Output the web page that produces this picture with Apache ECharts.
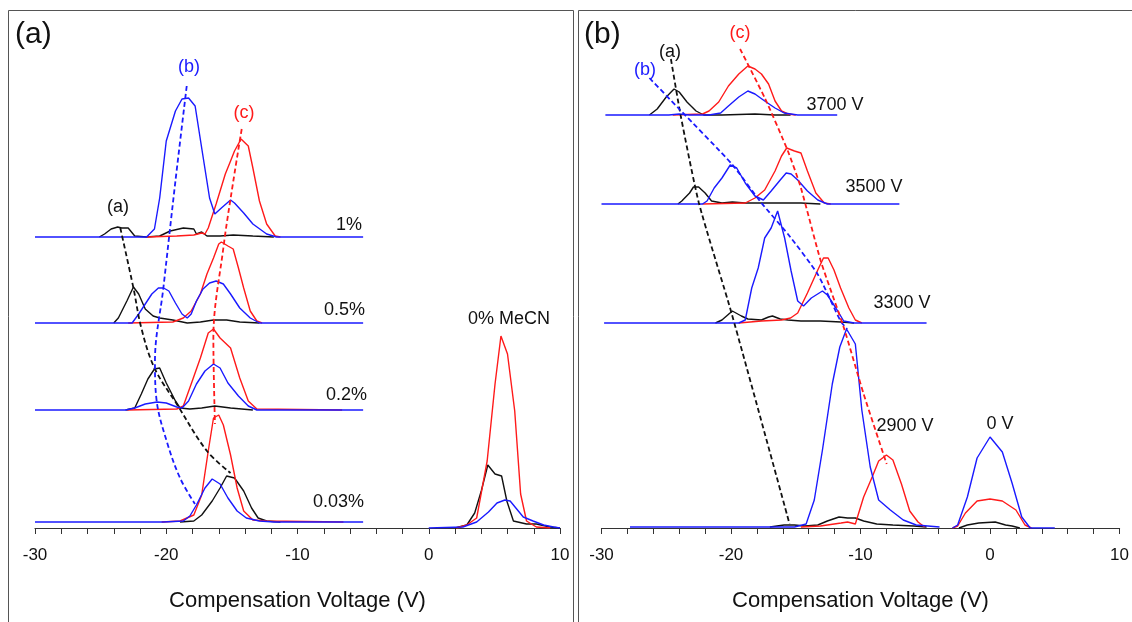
<!doctype html>
<html>
<head>
<meta charset="UTF-8">
<title>Compensation Voltage</title>
<script src="https://cdn.jsdelivr.net/npm/echarts@6/dist/echarts.min.js"></script>
<style>
  html, body { margin: 0; padding: 0; background: #fff; }
  #main { width: 1132px; height: 622px; }
</style>
</head>
<body>
<div id="main"></div>
<script>
// ---- panel (a): MeCN content, traces are [CV (V), intensity above baseline]
var rowsA = ['1%', '0.5%', '0.2%', '0.03%', '0% MeCN'];
var offsetsA = [291, 205, 118, 6, 0];   // stacking offset of each row

var a1_black = [[-25.1,0],[-24.7,3],[-24.2,8],[-23.7,10],[-23.4,9],[-22.9,9],[-22.4,1],[-21.5,0],[-20.5,1],[-19.7,6],[-18.7,9],[-17.9,8],[-17.7,3],[-17.3,5],[-16.9,1],[-15.9,1],[-14.9,2],[-13.4,1],[-11.8,0]];
var a1_red   = [[-21.5,0],[-19.2,1],[-17.9,2],[-17.3,4],[-17.05,3],[-16.8,9],[-16.2,33],[-15.5,63],[-15.1,76],[-14.8,86],[-14.3,98],[-13.75,91],[-13.4,69],[-12.9,36],[-12.35,13],[-11.7,1],[-11.3,0]];
var a1_blue  = [[-30,0],[-21.5,0],[-20.9,8],[-20.5,39],[-20,96],[-19.3,126],[-18.8,138],[-18.3,139],[-17.8,131],[-17.3,89],[-16.7,39],[-16.3,23],[-15.8,29],[-15.1,37],[-14.8,34],[-14.1,24],[-13.4,13],[-12.35,3],[-11.6,0],[-5,0]];

var a05_black = [[-24,0],[-23.65,5],[-23,22],[-22.5,36],[-22.1,29],[-21.6,14],[-21,7],[-20.5,5],[-19.5,3],[-18.4,0],[-17.4,1],[-16.4,3],[-15.4,3],[-14.4,1],[-12.9,0]];
var a05_red   = [[-22.9,0],[-19.5,1],[-18.7,5],[-18.1,12],[-17.4,29],[-16.9,49],[-16.4,65],[-16,79],[-15.8,81],[-15.3,77],[-14.9,74],[-14.5,55],[-14.1,35],[-13.6,12],[-13.1,2],[-12.7,0]];
var a05_blue  = [[-30,0],[-22.6,0],[-22.1,9],[-21.6,19],[-21.1,29],[-20.6,35],[-20.2,35],[-19.8,32],[-19.3,20],[-18.8,9],[-18.4,5],[-18.1,9],[-17.7,22],[-17.2,34],[-16.7,40],[-16.2,42],[-15.65,39],[-15.1,29],[-14.4,15],[-13.6,5],[-12.9,0],[-5,0]];

var a02_black = [[-23.1,0],[-22.4,2],[-21.9,16],[-21.4,31],[-20.9,41],[-20.5,42],[-20,27],[-19.3,9],[-18.95,2],[-18.2,1],[-17.3,2],[-16.3,4],[-15.1,2],[-13.4,0]];
var a02_red   = [[-23,0],[-19.2,1],[-18.7,4],[-18.1,26],[-17.4,52],[-16.8,77],[-16.4,81],[-15.9,72],[-15.1,62],[-14.4,32],[-13.75,9],[-13.1,1],[-6.6,0]];
var a02_blue  = [[-30,0],[-23.1,0],[-22.4,2],[-21.6,6],[-20.7,8],[-20,7],[-19.2,3],[-18.8,2],[-18.3,9],[-17.7,26],[-17.05,39],[-16.4,46],[-15.9,42],[-15.3,27],[-14.5,14],[-13.75,4],[-13.1,0],[-5,0]];

var a003_black = [[-18.95,0],[-17.9,1],[-17.3,7],[-16.5,21],[-15.9,34],[-15.4,46],[-14.8,44],[-14.1,31],[-13.5,14],[-13,4],[-12.35,1],[-11.3,0]];
var a003_red   = [[-20.35,0],[-18.95,1],[-17.9,7],[-17.3,27],[-16.8,71],[-16.4,104],[-16,107],[-15.65,97],[-15.1,67],[-14.6,34],[-14.1,11],[-13.4,2],[-12.35,1],[-6.5,0]];
var a003_blue  = [[-30,0],[-20.2,0],[-18.7,1],[-18.2,6],[-17.7,17],[-17.05,34],[-16.5,43],[-15.9,38],[-15.3,24],[-14.6,11],[-13.9,4],[-12.9,1],[-11.8,0],[-5,0]];

var a0_black = [[2,0],[2.9,3],[3.5,15],[4,37],[4.5,63],[5.05,54],[5.55,52],[5.95,27],[6.45,7],[7.45,4],[8.2,4],[9.25,1],[10,0]];
var a0_red   = [[2.1,0],[2.9,3],[3.65,10],[4.45,67],[5.05,144],[5.5,192],[6,174],[6.55,117],[7,34],[7.45,7],[8.2,1],[9.25,0]];
var a0_blue  = [[0,0],[2.6,1],[3.65,6],[4.55,16],[5.2,25],[5.8,28],[6.2,27],[6.7,19],[7.2,11],[7.95,7],[8.75,3],[9.5,1],[10,0]];

// peak-shift guides (absolute height on the stacked scale)
var guideA_a = [[-23.5,300],[-22.5,240],[-21.9,200],[-20.9,160],[-19.2,124],[-16.9,77],[-15.1,55]];
var guideA_b = [[-18.44,442],[-19.3,347],[-20.22,240],[-20.86,167],[-20.73,127],[-19.97,87],[-18.95,50],[-17.81,24]];
var guideA_c = [[-14.25,399],[-14.89,347],[-15.65,280],[-16.41,190],[-16.29,104]];

// ---- panel (b): dispersion voltage
var rowsB = ['3700 V', '3500 V', '3300 V', '2900 V', '0 V'];
var offsetsB = [413, 324, 205, 1, 0];

var b3700_black = [[-26.3,0],[-25.7,6],[-25,18],[-24.4,26],[-24,23],[-23.4,13],[-22.7,4],[-22.1,0],[-20.7,0],[-18.15,1],[-16.6,0],[-15.4,0]];
var b3700_red   = [[-24.5,0],[-22.2,1],[-21.7,4],[-20.95,13],[-20.2,29],[-19.4,41],[-18.7,49],[-18.15,46],[-17.65,41],[-17.1,31],[-16.6,14],[-16.1,4],[-15.6,1],[-15,0]];
var b3700_blue  = [[-29.7,0],[-24.8,0],[-24,1],[-23.2,0],[-21.7,0],[-20.8,2],[-20.2,9],[-19.4,18],[-18.7,24],[-18.15,21],[-17.4,14],[-16.6,7],[-15.9,2],[-14.85,0],[-11.8,0]];

var b3500_black = [[-24.1,0],[-23.8,3],[-23.2,11],[-22.9,17],[-22.5,17],[-22,11],[-21.5,3],[-20.7,1],[-19.9,2],[-18.9,1],[-17.65,1],[-16.1,1],[-14.6,1],[-13.1,0]];
var b3500_red   = [[-22.2,0],[-18.9,1],[-18.15,6],[-17.4,14],[-16.6,33],[-16.1,48],[-15.7,56],[-15.1,53],[-14.6,51],[-14.1,33],[-13.45,11],[-12.8,1],[-12.3,0]];
var b3500_blue  = [[-30,0],[-22.2,0],[-21.85,3],[-21.3,16],[-20.7,26],[-20.06,39],[-19.56,36],[-18.9,21],[-18.15,8],[-17.5,4],[-16.9,13],[-16.2,24],[-15.74,31],[-15.36,30],[-14.85,24],[-14.1,13],[-13.3,4],[-12.56,0],[-7,0]];

var b3300_black = [[-21.2,0],[-20.7,3],[-19.9,12],[-19.2,7],[-18.7,4],[-17.65,3],[-17.1,6],[-16.8,7],[-16.2,4],[-15.6,3],[-14.6,2],[-13.1,2],[-11.5,1],[-10.5,0]];
var b3300_red   = [[-19.4,0],[-17.65,2],[-16.1,3],[-15.4,5],[-14.85,10],[-14.1,30],[-13.3,53],[-12.86,65],[-12.5,65],[-12.05,53],[-11.54,35],[-10.9,15],[-10.4,3],[-9.9,0]];
var b3300_blue  = [[-29.8,0],[-19.4,0],[-18.9,3],[-18.4,35],[-17.9,55],[-17.4,85],[-16.9,95],[-16.4,112],[-15.86,85],[-15.36,52],[-14.85,22],[-14.4,17],[-13.8,25],[-12.94,32],[-12.56,28],[-11.9,15],[-11.3,2],[-10.5,0],[-4.9,0]];

var b2900_black = [[-17,0],[-15.9,2],[-15.1,2],[-14.3,1],[-13.3,2],[-12.56,6],[-11.66,10],[-11,9],[-10.4,9],[-9.76,6],[-8.75,3],[-7.5,2],[-5.9,1],[-4.9,0]];
var b2900_red   = [[-14.6,0],[-13.1,1],[-11.5,4],[-11,5],[-10.4,3],[-9.76,30],[-9.1,50],[-8.6,66],[-8,72],[-7.5,67],[-6.84,43],[-6.2,16],[-5.56,5],[-5.05,0]];
var b2900_blue  = [[-27.8,0],[-15.1,0],[-14.2,3],[-13.57,27],[-12.94,77],[-12.18,143],[-11.6,180],[-11.08,198],[-10.4,183],[-9.9,117],[-9.25,60],[-8.6,27],[-7.7,17],[-6.7,7],[-5.7,2],[-3.9,0]];

var b0_black = [[-2.4,0],[-1.75,3],[-0.87,5],[0.4,6],[1.2,3],[1.7,2],[2.3,0]];
var b0_red   = [[-2.9,0],[-2.5,2],[-1.9,15],[-1,27],[0,29],[0.95,27],[2,18],[2.7,3],[3.2,0]];
var b0_blue  = [[-2.9,0],[-2.5,3],[-1.75,31],[-1,70],[0,91],[0.95,76],[1.7,45],[2.45,11],[3.1,0],[5,0]];

var guideB_a = [[-24.64,469],[-23.88,412],[-22.48,325],[-19.94,214],[-15.48,4]];
var guideB_b = [[-26.3,450],[-24.0,419],[-19.94,364],[-17.65,325],[-15.61,294],[-13.32,254],[-11.54,207],[-11.03,199]];
var guideB_c = [[-19.3,479],[-17.39,430],[-15.61,377],[-14.6,340],[-13.07,267],[-11.28,200],[-9.76,134],[-7.98,64]];

var xTicks = [-30, -20, -10, 0, 10];

var BLACK = '#111111', RED = '#ff1a1a', BLUE = '#1a1aff';
var FONT = 'Liberation Sans, Arial, sans-serif';

function trace(data, offset, color, idx) {
    return {
        type: 'line', xAxisIndex: idx, yAxisIndex: idx,
        data: data.map(function (p) { return [p[0], p[1] + offset]; }),
        showSymbol: false, silent: true,
        lineStyle: { color: color, width: 1.4 }
    };
}
function guide(data, color, idx, smooth) {
    return {
        type: 'line', xAxisIndex: idx, yAxisIndex: idx, data: data,
        showSymbol: false, silent: true, smooth: smooth,
        lineStyle: { color: color, width: 1.8, type: [5, 3] }
    };
}

var series = [];
var rowsDataA = [[a1_black, a1_red, a1_blue], [a05_black, a05_red, a05_blue], [a02_black, a02_red, a02_blue],
                 [a003_black, a003_red, a003_blue], [a0_black, a0_red, a0_blue]];
var rowsDataB = [[b3700_black, b3700_red, b3700_blue], [b3500_black, b3500_red, b3500_blue], [b3300_black, b3300_red, b3300_blue],
                 [b2900_black, b2900_red, b2900_blue], [b0_black, b0_red, b0_blue]];
rowsDataA.forEach(function (r, i) {
    series.push(trace(r[0], offsetsA[i], BLACK, 0));
    series.push(trace(r[1], offsetsA[i], RED, 0));
    series.push(trace(r[2], offsetsA[i], BLUE, 0));
});
rowsDataB.forEach(function (r, i) {
    series.push(trace(r[0], offsetsB[i], BLACK, 1));
    series.push(trace(r[1], offsetsB[i], RED, 1));
    series.push(trace(r[2], offsetsB[i], BLUE, 1));
});
series.push(guide(guideA_a, BLACK, 0, 0.35));
series.push(guide(guideA_b, BLUE, 0, 0.35));
series.push(guide(guideA_c, RED, 0, 0.35));
series.push(guide(guideB_a, BLACK, 1, 0.2));
series.push(guide(guideB_b, BLUE, 1, 0.2));
series.push(guide(guideB_c, RED, 1, 0.2));

function xAxis(idx) {
    return {
        type: 'value', gridIndex: idx, min: xTicks[0], max: xTicks[xTicks.length - 1], interval: 10,
        name: 'Compensation Voltage (V)', nameLocation: 'middle', nameGap: 62,
        nameTextStyle: { fontFamily: FONT, fontSize: 22, color: '#111' },
        axisLine: { onZero: false, lineStyle: { color: '#333', width: 1.2 } },
        axisTick: { length: 6, lineStyle: { color: '#333' } },
        minorTick: { show: true, splitNumber: 5, length: 6, lineStyle: { color: '#333' } },
        splitLine: { show: false },
        axisLabel: { fontFamily: FONT, fontSize: 17, color: '#111', margin: 19 }
    };
}
function yAxis(idx) {
    return { type: 'value', gridIndex: idx, min: 0, max: 500, show: false };
}

function txt(x, y, s, color, size, align) {
    return { type: 'text', x: x, y: y, silent: true,
             style: { text: s, fill: color, font: size + 'px ' + FONT, align: align || 'center', verticalAlign: 'middle' } };
}

var chart = echarts.init(document.getElementById('main'), null, { renderer: 'canvas' });
chart.setOption({
    animation: false,
    backgroundColor: '#fff',
    grid: [
        { left: 35, top: 28, width: 525, height: 500 },
        { left: 601.5, top: 28, width: 525, height: 500 }
    ],
    xAxis: [xAxis(0), xAxis(1)],
    yAxis: [yAxis(0), yAxis(1)],
    series: series,
    graphic: [
        { type: 'rect', silent: true, shape: { x: 8.5, y: 10.5, width: 565, height: 640 }, style: { fill: 'none', stroke: '#555', lineWidth: 1 } },
        { type: 'rect', silent: true, shape: { x: 578.5, y: 10.5, width: 580, height: 640 }, style: { fill: 'none', stroke: '#555', lineWidth: 1 } },
        txt(15, 35, '(a)', '#111', 30, 'left'),
        txt(118, 207, '(a)', BLACK, 18),
        txt(189, 67, '(b)', BLUE, 18),
        txt(244, 113, '(c)', RED, 18),
        txt(362, 225, rowsA[0], '#111', 18, 'right'),
        txt(365, 310, rowsA[1], '#111', 18, 'right'),
        txt(367, 395, rowsA[2], '#111', 18, 'right'),
        txt(364, 502, rowsA[3], '#111', 18, 'right'),
        txt(509, 319, rowsA[4], '#111', 18),
        txt(584, 35, '(b)', '#111', 30, 'left'),
        txt(670, 52, '(a)', BLACK, 18),
        txt(645, 70, '(b)', BLUE, 18),
        txt(740, 33, '(c)', RED, 18),
        txt(835, 105, rowsB[0], '#111', 18),
        txt(874, 187, rowsB[1], '#111', 18),
        txt(902, 303, rowsB[2], '#111', 18),
        txt(905, 426, rowsB[3], '#111', 18),
        txt(1000, 424, rowsB[4], '#111', 18)
    ]
});
</script>
</body>
</html>
